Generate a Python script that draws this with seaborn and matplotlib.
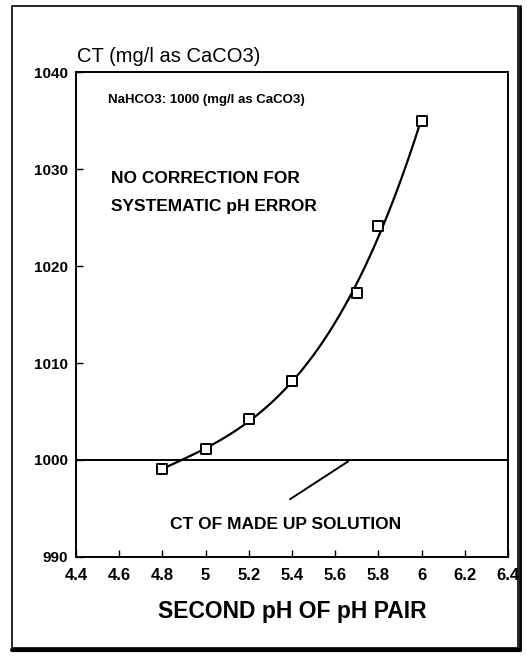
import matplotlib
matplotlib.use("Agg")
import matplotlib.pyplot as plt
import seaborn as sns
import pandas as pd
from matplotlib.patches import Rectangle
from matplotlib.lines import Line2D

sns.set_theme(style="white")
plt.rcParams['font.family'] = ['Liberation Sans', 'DejaVu Sans']
plt.rcParams['text.color'] = 'black'
plt.rcParams['axes.labelcolor'] = 'black'
plt.rcParams['xtick.color'] = 'black'
plt.rcParams['ytick.color'] = 'black'

ph = [4.8, 5.0, 5.2, 5.4, 5.7, 5.8, 6.0]
ct = [999.1, 1001.1, 1004.2, 1008.1, 1017.2, 1024.1, 1035.0]
xticks = [4.4, 4.6, 4.8, 5.0, 5.2, 5.4, 5.6, 5.8, 6.0, 6.2, 6.4]
xticklabels = ["4.4", "4.6", "4.8", "5", "5.2", "5.4", "5.6", "5.8", "6", "6.2", "6.4"]
yticks = [990, 1000, 1010, 1020, 1030, 1040]
reference_ct = 1000

df = pd.DataFrame({"ph": ph, "ct": ct})

fig = plt.figure(figsize=(5.27, 6.59), dpi=100)
ax = fig.add_axes([0.1442, 0.1548, 0.8198, 0.7359])

sns.regplot(data=df, x="ph", y="ct", order=3, ci=None, scatter=False,
            line_kws=dict(color="black", lw=1.6), ax=ax)
sns.scatterplot(data=df, x="ph", y="ct", marker="s", s=60, facecolor="white",
                edgecolor="black", linewidth=1.4, zorder=5, ax=ax)
ax.axhline(reference_ct, color="black", lw=1.4)
ax.annotate("", xy=(5.67, 1000), xytext=(5.38, 995.8),
            arrowprops=dict(arrowstyle="-", color="black", lw=1.4))

ax.set_xlim(4.4, 6.4)
ax.set_ylim(990, 1040)
ax.set_xticks(xticks)
ax.set_xticklabels(xticklabels)
ax.set_yticks(yticks)
ax.tick_params(direction="in", length=5, width=1, colors="black",
               bottom=True, left=True)
ax.tick_params(axis="x", labelsize=12, pad=8)
ax.tick_params(axis="y", labelsize=11, pad=6)
for lab in ax.get_xticklabels() + ax.get_yticklabels():
    lab.set_fontweight("bold")
for sp in ax.spines.values():
    sp.set_color("black")
    sp.set_linewidth(1.4)

ax.set_xlabel("SECOND pH OF pH PAIR", fontsize=16.5, fontweight="bold", labelpad=12)
ax.set_ylabel("")
fig.text(0.146, 0.906, "CT (mg/l as CaCO3)", fontsize=14.5, ha="left", va="baseline")

ax.text(4.55, 1037.1, "NaHCO3: 1000 (mg/l as CaCO3)", fontsize=9.5, fontweight="bold",
        ha="left", va="center")
ax.text(4.56, 1029.0, "NO CORRECTION FOR", fontsize=12.5, fontweight="bold",
        ha="left", va="center")
ax.text(4.56, 1026.1, "SYSTEMATIC pH ERROR", fontsize=12.5, fontweight="bold",
        ha="left", va="center")
ax.text(5.37, 993.4, "CT OF MADE UP SOLUTION", fontsize=12.5, fontweight="bold",
        ha="center", va="center")

# outer frame with shadowed bottom/right
fig.patches.append(Rectangle((12/527, 1-648/659), 506/527, 642/659,
                             transform=fig.transFigure, fill=False,
                             edgecolor="black", lw=1.2))
fig.lines.append(Line2D([12/527, 520/527], [1-650/659, 1-650/659],
                        transform=fig.transFigure, color="black", lw=3))
fig.lines.append(Line2D([519.5/527, 519.5/527], [1-650/659, 1-6/659],
                        transform=fig.transFigure, color="black", lw=2))

fig.savefig("out.png", dpi=100, facecolor="white")
